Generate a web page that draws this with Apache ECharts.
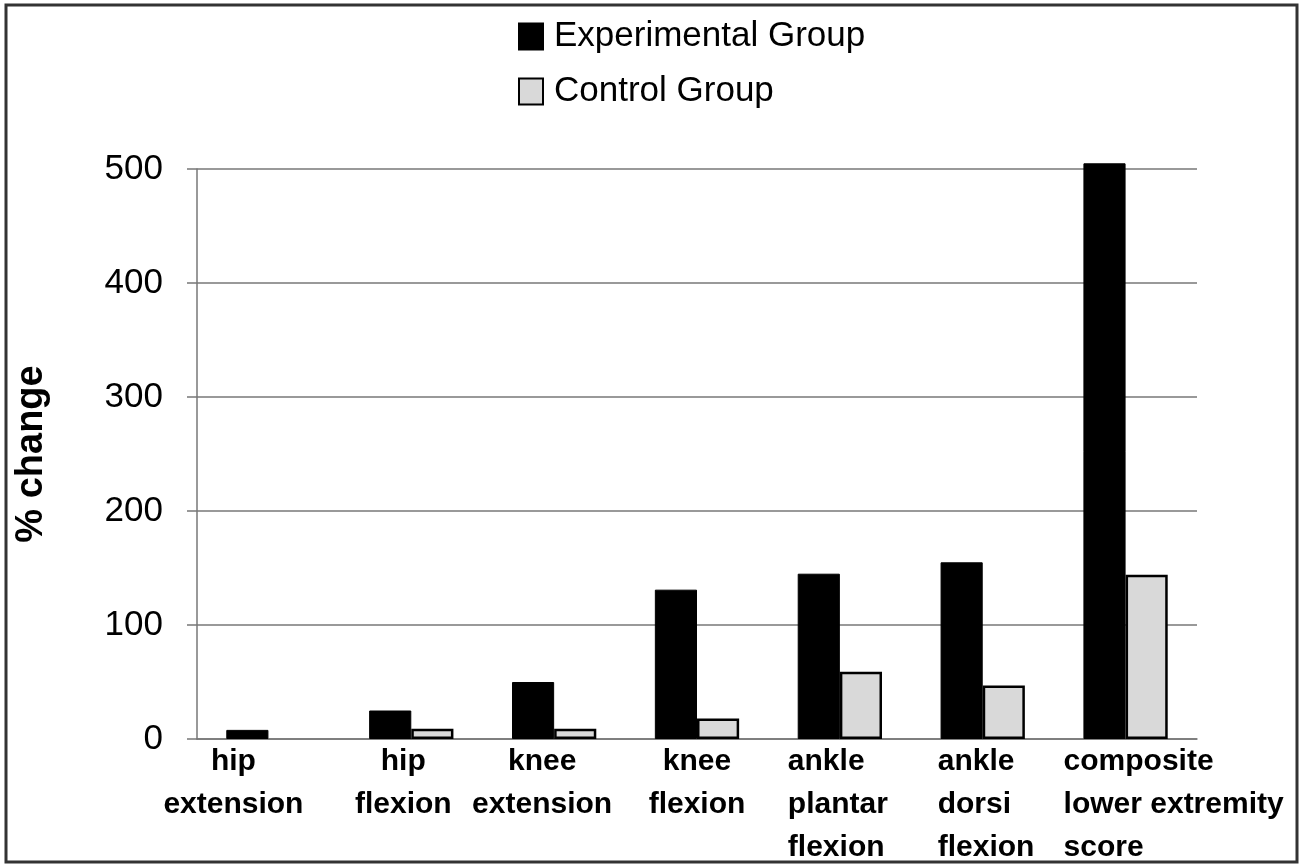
<!DOCTYPE html>
<html>
<head>
<meta charset="utf-8">
<script src="https://cdn.jsdelivr.net/npm/echarts@6/dist/echarts.min.js"></script>
<style>
html,body{margin:0;padding:0;background:#fff;}
#chart{width:1313px;height:865px;}
</style>
</head>
<body>
<div id="chart"></div>
<script>
const categories = ['hip\nextension','hip\nflexion','knee\nextension','knee\nflexion','ankle\nplantar\nflexion','ankle\ndorsi\nflexion','composite\nlower extremity\nscore'];
const experimental = [8, 25, 50, 131, 145, 155, 505];
// hip extension control: no visible bar in the reference (≈0)
const control = [null, 9, 9, 18, 59, 47, 144];
const yTicks = [0, 100, 200, 300, 400, 500];

const FONT = '"Liberation Sans", Arial, sans-serif';
const LFS = 30;

// per-category label placement (center-aligned with right padding, or left-aligned rich block)
const labelStyles = [
  {align:'center', padding:[0,70,0,0]},
  {align:'center', padding:[0,16,0,0]},
  {align:'center', padding:[0,24,0,0]},
  {align:'center', padding:[0,0,0,0]},
  null, null, null
];
const richNames = [null,null,null,null,'la','ld','lc'];
const richBase = {align:'left', fontFamily:FONT, fontSize:LFS, fontWeight:'bold', color:'#000', lineHeight:43};

const chart = echarts.init(document.getElementById('chart'));
chart.setOption({
  backgroundColor:'#fff',
  animation:false,
  graphic:[{type:'rect', shape:{x:6, y:5, width:1291, height:857}, style:{fill:'none', stroke:'#333', lineWidth:3}, z:100}],
  legend:{
    orient:'vertical', left:513, top:14,
    itemWidth:24, itemHeight:26, itemGap:20,
    data:['Experimental Group','Control Group'],
    textStyle:{fontFamily:FONT, fontSize:35, color:'#000', padding:[0,0,0,6]},
    icon:'rect'
  },
  grid:{left:197, right:116, top:169, bottom:126, containLabel:false, outerBoundsMode:'none'},
  xAxis:{
    type:'category',
    data:categories.map((c,i)=> labelStyles[i] ? {value:c, textStyle:labelStyles[i]} : c),
    axisLine:{show:true, lineStyle:{color:'#777', width:1.5}},
    axisTick:{show:false},
    axisLabel:{
      interval:0, margin:1, fontFamily:FONT, fontSize:LFS, fontWeight:'bold', color:'#000', lineHeight:43,
      formatter:function(v, i){
        const r = richNames[i];
        if(!r) return v;
        return v.split('\n').map(s=>'{'+r+'|'+s+'}').join('\n');
      },
      rich:{
        la:Object.assign({width:104}, richBase),
        ld:Object.assign({width:90}, richBase),
        lc:Object.assign({width:124}, richBase)
      }
    }
  },
  yAxis:{
    type:'value', min:yTicks[0], max:yTicks[yTicks.length-1], interval:100,
    name:'% change', nameLocation:'middle', nameGap:146,
    nameTextStyle:{fontFamily:FONT, fontSize:38, fontWeight:'bold', color:'#000'},
    axisLine:{show:true, lineStyle:{color:'#777', width:1.5}},
    axisTick:{show:true, length:10, lineStyle:{color:'#777', width:1.5}},
    axisLabel:{fontFamily:FONT, fontSize:35, color:'#000', margin:34},
    splitLine:{show:true, lineStyle:{color:'#777', width:1.5}}
  },
  series:[
    {name:'Experimental Group', type:'bar', data:experimental, barGap:'0%', barCategoryGap:'41%', clip:false,
     itemStyle:{color:'#000', borderColor:'#000', borderWidth:1}},
    {name:'Control Group', type:'bar', data:control, clip:false,
     itemStyle:{color:'#d9d9d9', borderColor:'#000', borderWidth:2.5}}
  ]
});
</script>
</body>
</html>
